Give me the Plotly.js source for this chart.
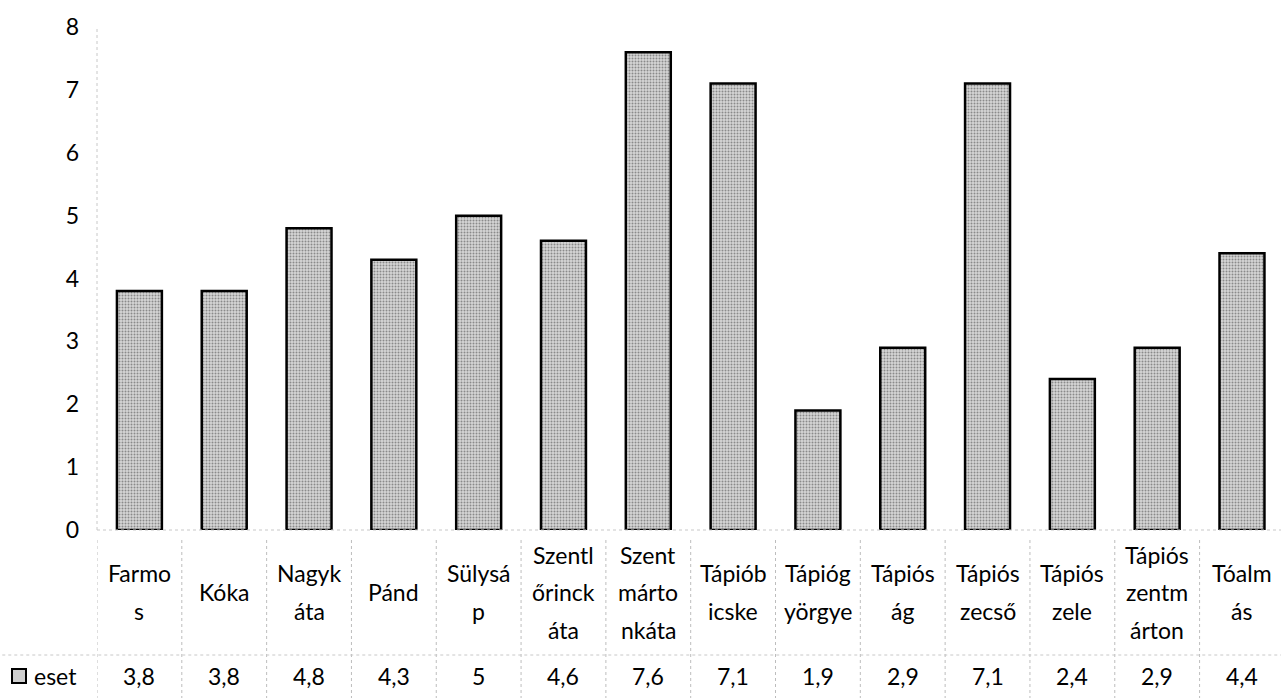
<!DOCTYPE html>
<html>
<head>
<meta charset="utf-8">
<script src="https://cdn.plot.ly/plotly-3.0.1.min.js"></script>
<style>html,body{margin:0;padding:0;background:#fff;}#chart{width:1281px;height:698px;}</style>
</head>
<body>
<div id="chart"></div>
<script>
// Data
const categories = ["Farmos","Kóka","Nagykáta","Pánd","Sülysáp","Szentlőrinckáta","Szentmártonkáta","Tápióbicske","Tápiógyörgye","Tápióság","Tápiószecső","Tápiószele","Tápiószentmárton","Tóalmás"];
const categoryLines = [["Farmo","s"],["Kóka"],["Nagyk","áta"],["Pánd"],["Sülysá","p"],["Szentl","őrinck","áta"],["Szent","márto","nkáta"],["Tápiób","icske"],["Tápióg","yörgye"],["Tápiós","ág"],["Tápiós","zecső"],["Tápiós","zele"],["Tápiós","zentm","árton"],["Tóalm","ás"]];
const values = [3.8, 3.8, 4.8, 4.3, 5, 4.6, 7.6, 7.1, 1.9, 2.9, 7.1, 2.4, 2.9, 4.4];
const seriesName = "eset";
const yTicks = [0,1,2,3,4,5,6,7,8];

const FONT = "Lato, 'Noto Sans', sans-serif";
const FS = 23;
const idx = categories.map((c,i)=>i);

const trace = {
  type: "bar",
  x: idx,
  y: values,
  name: seriesName,
  width: 0.53,
  marker: {
    color: "#cfcfcf",
    line: {color: "#000", width: 2.5},
    pattern: {shape: ".", fgcolor: "#8a8a8a", bgcolor: "#d6d6d6", size: 3, solidity: 0.35}
  },
  hoverinfo: "skip"
};

const annotations = [];
const shapes = [];
const LABEL_CENTER = -62;   // px below plot bottom
const LINE_STEP = 37.5;
const VALUE_CENTER = -146;

idx.forEach(i => {
  const lines = categoryLines[i];
  const n = lines.length;
  lines.forEach((ln, k) => {
    annotations.push({
      x: i, xref: "x", y: 0, yref: "paper",
      yshift: LABEL_CENTER - (k - (n-1)/2) * LINE_STEP,
      text: ln, showarrow: false, xanchor: "center", yanchor: "middle",
      font: {family: FONT, size: FS, color: "#000"}
    });
  });
  annotations.push({
    x: i, xref: "x", y: 0, yref: "paper", yshift: VALUE_CENTER,
    text: String(values[i]).replace(".", ","), showarrow: false,
    xanchor: "center", yanchor: "middle",
    font: {family: FONT, size: FS, color: "#000"}
  });
  // dotted separators for the data table
  shapes.push({
    type: "line", xref: "x", yref: "paper", x0: i - 0.5, x1: i - 0.5,
    y0: 0, y1: 0, ysizemode: "pixel", yanchor: 0, ... {y0: -10, y1: -170},
    line: {color: "#bdbdbd", width: 1, dash: "dot"}
  });
});

// legend key in the table
annotations.push({
  x: 0, xref: "paper", xshift: -42, y: 0, yref: "paper", yshift: VALUE_CENTER,
  text: seriesName, showarrow: false, xanchor: "center", yanchor: "middle",
  font: {family: FONT, size: FS, color: "#000"}
});
shapes.push({
  type: "rect", xref: "paper", yref: "paper",
  xsizemode: "pixel", xanchor: 0, x0: -85, x1: -71,
  ysizemode: "pixel", yanchor: 0, y0: VALUE_CENTER - 7, y1: VALUE_CENTER + 7,
  fillcolor: "#cfcfcf", line: {color: "#000", width: 2}
});
// horizontal dotted line between label row and value row
shapes.push({
  type: "line", xref: "paper", yref: "paper", x0: -0.08, x1: 1,
  ysizemode: "pixel", yanchor: 0, y0: -125, y1: -125,
  line: {color: "#c8c8c8", width: 1, dash: "dot"}
});
// faint dotted y-axis line and baseline
shapes.push({
  type: "line", xref: "paper", yref: "paper", x0: 0, x1: 0, y0: 0, y1: 1,
  line: {color: "#c8c8c8", width: 1, dash: "dot"}
});
shapes.push({
  type: "line", xref: "paper", yref: "paper", x0: 0, x1: 1, y0: 0, y1: 0,
  line: {color: "#c8c8c8", width: 1, dash: "dot"}
});

const layout = {
  width: 1281, height: 698,
  margin: {l: 97, r: 0, t: 27, b: 168},
  paper_bgcolor: "#fff", plot_bgcolor: "#fff",
  showlegend: false,
  xaxis: {
    range: [-0.5, 13.46], showticklabels: false, showgrid: false,
    zeroline: false, showline: false, ticks: "", fixedrange: true
  },
  yaxis: {
    range: [0, 8], tickvals: yTicks, ticktext: yTicks.map(String),
    showgrid: false, zeroline: false, showline: false, ticks: "",
    ticklabelstandoff: 17,
    tickfont: {family: FONT, size: FS, color: "#000"}, fixedrange: true
  },
  annotations: annotations,
  shapes: shapes
};

Plotly.newPlot("chart", [trace], layout, {staticPlot: true, displayModeBar: false});
</script>
</body>
</html>
